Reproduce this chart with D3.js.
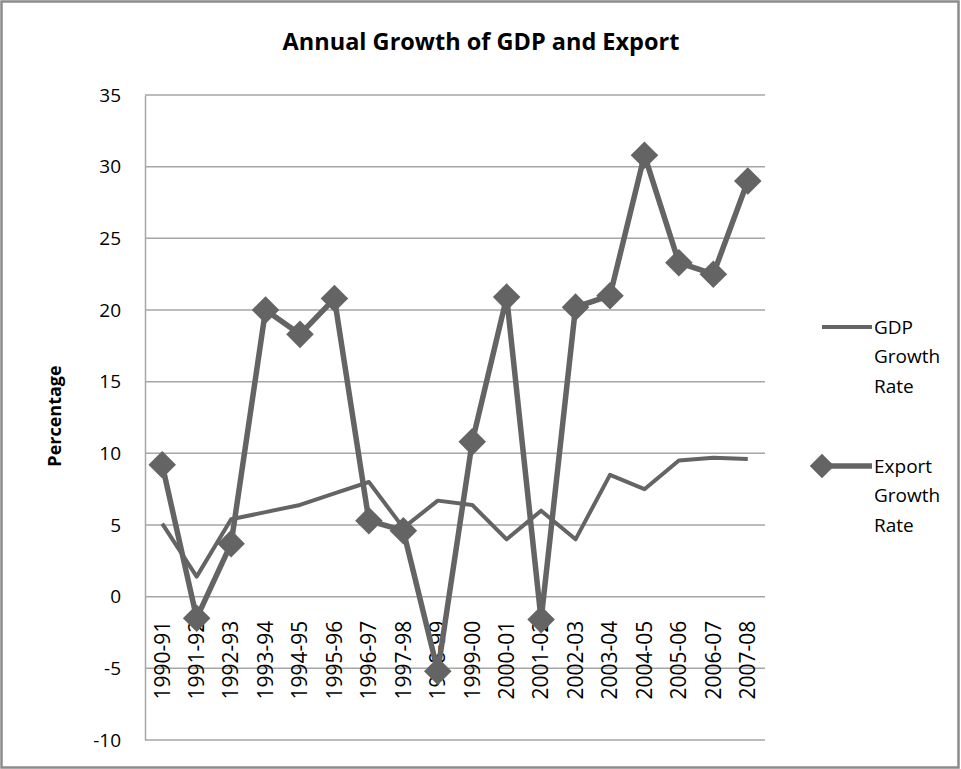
<!DOCTYPE html>
<html>
<head>
<meta charset="utf-8">
<script src="https://cdn.jsdelivr.net/npm/d3@7"></script>
<style>
  body { margin: 0; background: #fff; }
  text { font-family: "Open Sans", sans-serif; fill: #000; }
</style>
</head>
<body>
<div id="chart"></div>
<script>
var years = ["1990-91", "1991-92", "1992-93", "1993-94", "1994-95", "1995-96",
  "1996-97", "1997-98", "1998-99", "1999-00", "2000-01", "2001-02",
  "2002-03", "2003-04", "2004-05", "2005-06", "2006-07", "2007-08"];

var gdpGrowth = [5.1, 1.4, 5.4, 5.9, 6.4, 7.2, 8.0, 4.8, 6.7, 6.4, 4.0, 6.0,
  4.0, 8.5, 7.5, 9.5, 9.7, 9.6];

var exportGrowth = [9.2, -1.5, 3.7, 20.0, 18.3, 20.8, 5.3, 4.6, -5.2, 10.8, 20.9, -1.6,
  20.2, 21.0, 30.8, 23.3, 22.5, 29.0];

var yTicks = [-10, -5, 0, 5, 10, 15, 20, 25, 30, 35];

var width = 961;
var height = 769;

var plotLeft = 145;
var plotRight = 765;
var plotTop = 95;
var plotBottom = 740;

var lineColor = "#646464";
var gridColor = "#a6a6a6";

var svg = d3
  .select("#chart")
  .append("svg")
  .attr("width", width)
  .attr("height", height);

// outer frame
svg
  .append("rect")
  .attr("x", 1.5)
  .attr("y", 1.5)
  .attr("width", width - 4)
  .attr("height", height - 3)
  .attr("fill", "#fff")
  .attr("stroke", "#8c8c8c")
  .attr("stroke-width", 2.5);

var xScale = d3
  .scaleBand()
  .domain(years)
  .range([plotLeft, plotRight]);

var yScale = d3
  .scaleLinear()
  .domain([-10, 35])
  .range([plotBottom, plotTop]);

// gridlines
svg
  .append("g")
  .selectAll("line")
  .data(yTicks)
  .enter()
  .append("line")
  .attr("x1", plotLeft)
  .attr("x2", plotRight)
  .attr("y1", function(d) { return yScale(d); })
  .attr("y2", function(d) { return yScale(d); })
  .attr("stroke", gridColor)
  .attr("stroke-width", 1.5);

// y axis (plain hyphen for negatives)
var yAxis = d3
  .axisLeft(yScale)
  .tickValues(yTicks)
  .tickFormat(function(d) { return String(d); })
  .tickSize(0)
  .tickPadding(24);
var yG = svg
  .append("g")
  .attr("transform", "translate(" + plotLeft + ",0)")
  .call(yAxis);
yG.select(".domain").attr("stroke", gridColor).attr("stroke-width", 1.5);
yG.selectAll("text")
  .attr("font-size", "19px")
  .attr("font-family", "Open Sans, sans-serif")
  .attr("fill", "#000");

// x axis at zero, labels rotated
var xAxis = d3.axisBottom(xScale).tickSize(0);
var xG = svg
  .append("g")
  .attr("transform", "translate(0," + yScale(0) + ")")
  .call(xAxis);
xG.select(".domain").remove();
xG.selectAll("text")
  .attr("font-size", "21px")
  .attr("font-family", "Open Sans, sans-serif")
  .attr("fill", "#000")
  .attr("text-anchor", "end")
  .attr("transform", "rotate(-90)")
  .attr("x", -24)
  .attr("y", 0)
  .attr("dy", "0.35em");

// lines
var line = function(values) {
  return d3
    .line()
    .x(function(d, i) { return xScale(years[i]) + xScale.bandwidth() / 2; })
    .y(function(d) { return yScale(d); })(values);
};

svg
  .append("path")
  .attr("d", line(gdpGrowth))
  .attr("fill", "none")
  .attr("stroke", lineColor)
  .attr("stroke-width", 4)
  .attr("stroke-linejoin", "round");

svg
  .append("path")
  .attr("d", line(exportGrowth))
  .attr("fill", "none")
  .attr("stroke", lineColor)
  .attr("stroke-width", 5.5)
  .attr("stroke-linejoin", "round");

var diamond = d3.symbol().type(d3.symbolSquare).size(380);

svg
  .append("g")
  .selectAll("path")
  .data(exportGrowth)
  .enter()
  .append("path")
  .attr("d", diamond)
  .attr("fill", lineColor)
  .attr("transform", function(d, i) {
    return "translate(" + (xScale(years[i]) + xScale.bandwidth() / 2) + "," + yScale(d) + ")rotate(45)";
  });

// title
svg
  .append("text")
  .attr("x", 481)
  .attr("y", 50)
  .attr("text-anchor", "middle")
  .attr("font-size", "23.5px")
  .attr("font-weight", "bold")
  .text("Annual Growth of GDP and Export");

// y title
svg
  .append("text")
  .attr("transform", "translate(61," + 416 + ")rotate(-90)")
  .attr("text-anchor", "middle")
  .attr("font-size", "18px")
  .attr("font-weight", "bold")
  .text("Percentage");

// legend
var legendItems = [
  { name: ["GDP", "Growth", "Rate"], y: 327, marker: false, w: 4 },
  { name: ["Export", "Growth", "Rate"], y: 466, marker: true, w: 5.5 }
];

var legend = svg.append("g").attr("class", "legend");
legendItems.forEach(function(item) {
  legend
    .append("line")
    .attr("x1", 822)
    .attr("x2", 872)
    .attr("y1", item.y)
    .attr("y2", item.y)
    .attr("stroke", lineColor)
    .attr("stroke-width", item.w);
  if (item.marker) {
    legend
      .append("path")
      .attr("d", d3.symbol().type(d3.symbolSquare).size(300))
      .attr("fill", lineColor)
      .attr("transform", "translate(822," + item.y + ")rotate(45)");
  }
  item.name.forEach(function(t, k) {
    legend
      .append("text")
      .attr("x", 874)
      .attr("y", item.y + k * 29.5)
      .attr("dy", "0.35em")
      .attr("font-size", "19px")
      .text(t);
  });
});
</script>
</body>
</html>
